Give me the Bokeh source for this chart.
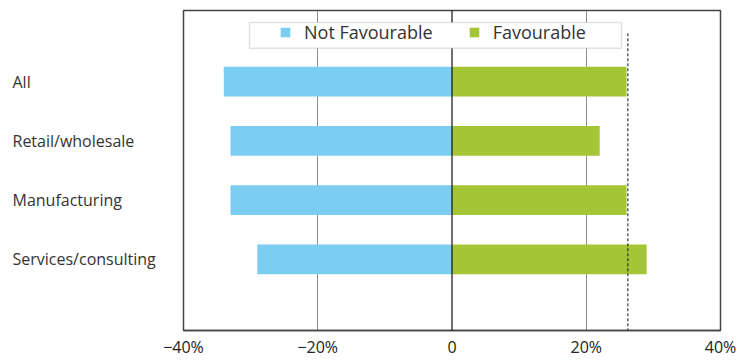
from bokeh.plotting import figure
from bokeh.layouts import row
from bokeh.models import (Range1d, ColumnDataSource, Span, Legend, LegendItem,
                          FixedTicker, CustomJSTickFormatter, BoxAnnotation)
from bokeh.embed import file_html
from bokeh.resources import INLINE

categories = ["All", "Retail/wholesale", "Manufacturing", "Services/consulting"]
not_favourable = [-34, -33, -33, -29]
favourable = [26, 22, 26, 29]
reference_line = 26.2
x_ticks = [-40, -20, 0, 20, 40]

FONT = "Open Sans"
BLUE = "#7BCDF2"
GREEN = "#A4C535"
TEXT = "#333333"

ypos = list(range(len(categories)))
src = ColumnDataSource(dict(y=ypos, cat=categories, nf=not_favourable, f=favourable,
                            zero=[0] * len(categories)))

W, H = 747, 360
LABEL_W = 161
MT, MB = 10, 27
XMIN, XMAX = -40, 40
y_range = Range1d(len(categories) - 1 + 1.2, -1.2)

# ---- left panel with left-aligned category labels
lp = figure(width=LABEL_W, height=H, output_backend="svg", toolbar_location=None,
            x_range=Range1d(0, LABEL_W), y_range=y_range,
            x_axis_location=None, y_axis_location=None,
            min_border=0, min_border_top=MT, min_border_bottom=MB)
lp.outline_line_color = None
lp.grid.visible = False
lp.text(x=12, y="y", text="cat", source=src, text_font={"value": FONT},
        text_font_size="16px", text_color=TEXT, text_baseline="middle", text_align="left")

# ---- main panel
p = figure(width=W - LABEL_W, height=H, output_backend="svg", toolbar_location=None,
           x_range=Range1d(XMIN, XMAX), y_range=y_range,
           y_axis_location=None, min_border=0, min_border_left=22, min_border_right=27,
           min_border_top=MT, min_border_bottom=MB)
p.outline_line_color = "#444444"
p.outline_line_width = 1.5
p.ygrid.visible = False
p.xgrid.ticker = FixedTicker(ticks=[-20, 20])
p.xgrid.grid_line_color = "#8c8c8c"
p.xgrid.grid_line_width = 1

p.xaxis.ticker = FixedTicker(ticks=x_ticks)
p.xaxis.formatter = CustomJSTickFormatter(code="""
if (tick == 0) { return "0"; }
return (tick < 0 ? "\u2212" + Math.abs(tick) : String(tick)) + "%";
""")
p.xaxis.major_tick_line_color = None
p.xaxis.minor_tick_line_color = None
p.xaxis.major_tick_out = 0
p.xaxis.major_tick_in = 0
p.xaxis.minor_tick_out = 0
p.xaxis.minor_tick_in = 0
p.xaxis.axis_line_color = "#444444"
p.xaxis.axis_line_width = 1.5
p.xaxis.major_label_standoff = 5
p.xaxis.major_label_text_font = FONT
p.xaxis.major_label_text_font_size = "16px"
p.xaxis.major_label_text_color = "#222222"

r_nf = p.hbar(y="y", left="nf", right="zero", height=0.5, source=src,
              fill_color=BLUE, line_color=None)
r_f = p.hbar(y="y", left="zero", right="f", height=0.5, source=src,
             fill_color=GREEN, line_color=None)

p.add_layout(Span(location=0, dimension="height", line_color="#111111", line_width=1.2))

# geometry helpers (pixels -> data) for the legend box and dashed line
frame_w = W - LABEL_W - 22 - 27
frame_h = H - MT - MB
ppx = frame_w / (XMAX - XMIN)
ppy = frame_h / (y_range.start - y_range.end)
def px_x(px):
    return XMIN + px / ppx
def px_y(py):
    return y_range.end + py / ppy

p.segment(x0=[reference_line], y0=[px_y(23)], x1=[reference_line], y1=[y_range.start],
          line_color="#111111", line_width=1, line_dash="3 2")

# legend frame
p.add_layout(BoxAnnotation(left=px_x(66), right=px_x(438), top=px_y(12), bottom=px_y(38),
                           fill_color="white", fill_alpha=1, line_color="#a0a0a0",
                           line_width=1.5))

legend = Legend(items=[LegendItem(label="Not Favourable", renderers=[r_nf]),
                       LegendItem(label="Favourable", renderers=[r_f])],
                orientation="horizontal", location=(96, frame_h - 25 - 12.5),
                label_text_font=FONT, label_text_font_size="18px", label_text_color=TEXT,
                glyph_width=12, glyph_height=12, label_standoff=13, spacing=35,
                padding=0, margin=0, border_line_color=None,
                background_fill_alpha=0, label_height=25)
p.add_layout(legend)

open("out.html", "w").write(file_html(row(lp, p), INLINE))
